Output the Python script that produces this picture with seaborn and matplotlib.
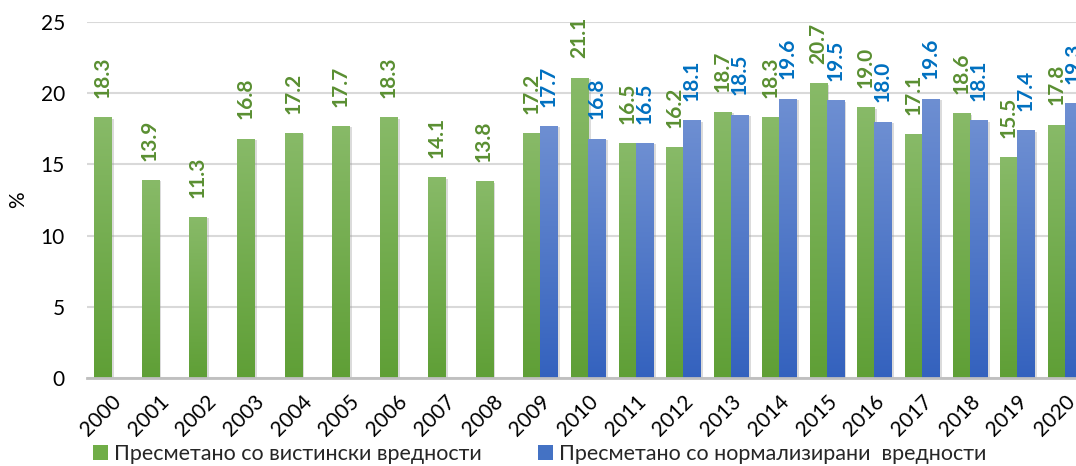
import numpy as np
import pandas as pd
import matplotlib
matplotlib.use("Agg")
import matplotlib.pyplot as plt
import seaborn as sns
from matplotlib import patheffects as pe
from matplotlib.colors import LinearSegmentedColormap
from matplotlib.patches import Patch

years = [str(y) for y in range(2000, 2021)]
actual = [18.3, 13.9, 11.3, 16.8, 17.2, 17.7, 18.3, 14.1, 13.8, 17.2, 21.1,
          16.5, 16.2, 18.7, 18.3, 20.7, 19.0, 17.1, 18.6, 15.5, 17.8]
normalized = [None] * 9 + [17.7, 16.8, 16.5, 18.1, 18.5, 19.6, 19.5, 18.0,
                           19.6, 18.1, 17.4, 19.3]
series_names = ["Пресметано со вистински вредности",
                "Пресметано со нормализирани  вредности"]
yticks = [0, 5, 10, 15, 20, 25]

green_top, green_bot = "#88ba68", "#5f9f36"
blue_top, blue_bot = "#6e8fd2", "#3462be"
green_lbl, blue_lbl = "#5a8f32", "#0070c0"

sns.set_theme(style="white")
plt.rcParams['font.family'] = ['Lato', 'DejaVu Sans']

df = pd.DataFrame({
    "year": years * 2,
    "value": pd.to_numeric(pd.Series(actual + normalized), errors="coerce"),
    "series": [series_names[0]] * len(years) + [series_names[1]] * len(years),
}).dropna()

fig = plt.figure(figsize=(10.76, 4.66), dpi=100)
ax = fig.add_axes([87 / 1076, 88 / 466, 1002 / 1076, 356 / 466])

sns.barplot(data=df, x="year", y="value", hue="series", order=years,
            hue_order=series_names, palette=["#70ad47", "#4472c4"],
            width=0.714, gap=0, errorbar=None, ax=ax, legend=False,
            linewidth=0)

ax.set_ylim(0, 25)
ax.set_xlim(-0.5, len(years) - 0.5)

cmaps = [LinearSegmentedColormap.from_list("g", [green_bot, green_top]),
         LinearSegmentedColormap.from_list("b", [blue_bot, blue_top])]
grad = np.linspace(0, 1, 256).reshape(-1, 1)
for cont, cm, lc in zip(ax.containers, cmaps, [green_lbl, blue_lbl]):
    for bar in cont:
        bar.set_path_effects([pe.SimplePatchShadow(offset=(2, -1), shadow_rgbFace="#999999", alpha=0.35), pe.Normal()])
        x0, w, h = bar.get_x(), bar.get_width(), bar.get_height()
        im = ax.imshow(grad, cmap=cm, origin="lower", aspect="auto",
                       extent=[x0, x0 + w, 0, h], zorder=bar.get_zorder() + 0.1)
        im.set_clip_path(bar)
    ax.bar_label(cont, fmt="%.1f", rotation=90, padding=14, color=lc,
                 fontweight="bold", fontsize=15)

ax.set_xlim(-0.5, len(years) - 0.5)
ax.set_ylim(0, 25)
ax.set_yticks(yticks)
ax.set_yticklabels([str(t) for t in yticks], fontsize=15, color="#000000")
ax.tick_params(axis="y", length=0, pad=16)
ax.tick_params(axis="x", length=0, pad=10)
for lab in ax.get_xticklabels():
    lab.set_rotation(45)
    lab.set_ha("right")
    lab.set_rotation_mode("anchor")
    lab.set_fontsize(15)
    lab.set_color("#000000")

ax.yaxis.grid(True, color="#d9d9d9", linewidth=1.5)
ax.set_axisbelow(True)
for s in ["top", "right", "left"]:
    ax.spines[s].set_visible(False)
ax.spines["bottom"].set_color("#bfbfbf")
ax.spines["bottom"].set_linewidth(2)
ax.set_xlabel("")
ax.set_ylabel("%", fontsize=15, color="#000000", labelpad=9)

handles = [Patch(facecolor="#70ad47", edgecolor="none"),
           Patch(facecolor="#4472c4", edgecolor="none")]
fig.legend(handles, series_names, loc="lower left",
           bbox_to_anchor=(84 / 1076, -7 / 466), ncol=2, frameon=False,
           fontsize=15.5, handlelength=0.7, handleheight=0.7,
           handletextpad=0.3, columnspacing=2.6, borderaxespad=0)

fig.savefig("out.png", dpi=100)
